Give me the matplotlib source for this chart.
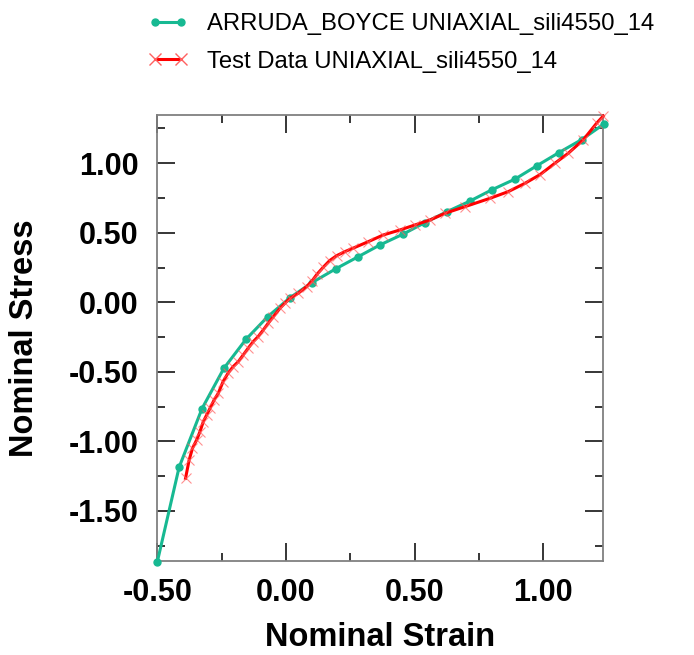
import matplotlib
matplotlib.use("Agg")
import matplotlib.pyplot as plt
from matplotlib.ticker import MultipleLocator, FormatStrFormatter
from matplotlib.lines import Line2D

# ARRUDA_BOYCE fit (model curve)
strain_ab = [-0.500, -0.415, -0.326, -0.241, -0.155, -0.071, 0.016, 0.101, 0.193, 0.281,
             0.365, 0.456, 0.540, 0.624, 0.715, 0.799, 0.890, 0.974, 1.060, 1.149, 1.236]
stress_ab = [-1.870, -1.187, -0.765, -0.475, -0.266, -0.104, 0.033, 0.141, 0.240, 0.328,
             0.412, 0.491, 0.573, 0.650, 0.728, 0.808, 0.886, 0.981, 1.076, 1.170, 1.283]

# Test data
strain_test = [-0.390, -0.376, -0.363, -0.347, -0.334, -0.321, -0.308, -0.295, -0.279, -0.263,
               -0.244, -0.225, -0.205, -0.185, -0.166, -0.147, -0.127, -0.108, -0.088, -0.069,
               -0.049, -0.023, -0.004, 0.016, 0.048, 0.080, 0.100, 0.120, 0.145, 0.170, 0.197,
               0.230, 0.262, 0.320, 0.378, 0.443, 0.501, 0.560, 0.618, 0.696, 0.793, 0.864,
               0.929, 0.987, 1.045, 1.097, 1.155, 1.208, 1.233]
stress_test = [-1.266, -1.135, -1.050, -0.991, -0.931, -0.859, -0.811, -0.763, -0.703, -0.655,
               -0.570, -0.510, -0.463, -0.427, -0.379, -0.331, -0.283, -0.247, -0.199, -0.151,
               -0.104, -0.043, -0.007, 0.029, 0.065, 0.112, 0.150, 0.200, 0.252, 0.300, 0.335,
               0.365, 0.390, 0.436, 0.484, 0.520, 0.556, 0.592, 0.640, 0.688, 0.748, 0.796,
               0.856, 0.918, 1.000, 1.072, 1.168, 1.290, 1.340]

label_ab = "ARRUDA_BOYCE UNIAXIAL_sili4550_14"
label_test = "Test Data UNIAXIAL_sili4550_14"
x_label = "Nominal Strain"
y_label = "Nominal Stress"

GREEN = "#17b992"
RED = "#ff0000"
RED_MK = "#ff6060"

plt.rcParams['font.family'] = ['Liberation Sans', 'DejaVu Sans']

fig = plt.figure(figsize=(6.94, 6.55), dpi=100)
ax = fig.add_axes([156.7 / 694, 1 - 561 / 655, (603.3 - 156.7) / 694, (561 - 115) / 655])

ax.plot(strain_ab, stress_ab, color=GREEN, lw=2.2, marker='o', ms=5,
        mfc=GREEN, mec=GREEN, clip_on=False, zorder=3)
ax.plot(strain_test, stress_test, color=RED, lw=2.2, zorder=4, clip_on=False)
ax.plot(strain_test, stress_test, ls='none', marker='x', ms=7, mew=0.8,
        color=RED_MK, alpha=0.7, zorder=5, clip_on=False)

ax.set_xlim(-0.502, 1.233)
ax.set_ylim(-1.861, 1.347)

ax.xaxis.set_major_locator(MultipleLocator(0.5))
ax.xaxis.set_minor_locator(MultipleLocator(0.25))
ax.yaxis.set_major_locator(MultipleLocator(0.5))
ax.yaxis.set_minor_locator(MultipleLocator(0.25))
ax.xaxis.set_major_formatter(FormatStrFormatter('%.2f'))
ax.yaxis.set_major_formatter(FormatStrFormatter('%.2f'))

ax.tick_params(which='both', direction='in', top=True, right=True, color='black', width=1.1)
ax.tick_params(which='major', length=13)
ax.tick_params(which='minor', length=5.8)
ax.tick_params(axis='x', which='major', pad=12)
ax.tick_params(axis='y', which='major', pad=13)
for lbl in ax.get_xticklabels() + ax.get_yticklabels():
    lbl.set_fontsize(22)
    lbl.set_fontweight('bold')

for s in ax.spines.values():
    s.set_color('#808080')
    s.set_linewidth(1.3)

ax.set_xlabel(x_label, fontsize=23.5, fontweight='bold')
ax.set_ylabel(y_label, fontsize=23.5, fontweight='bold')
ax.xaxis.set_label_coords(0.5, -0.136)
ax.yaxis.set_label_coords(-0.262, 0.5)

h1 = Line2D([], [], color=GREEN, lw=2.2, marker='o', ms=5)
h2 = Line2D([], [], color=RED, lw=2.2, marker='x', ms=8, mew=1.0, mec=RED_MK)
fig.legend([h1, h2], [label_ab, label_test], loc='upper left',
           bbox_to_anchor=(148 / 694, 1 - 13 / 655), frameon=False,
           fontsize=17.2, numpoints=2, handlelength=1.7, handletextpad=0.75,
           labelspacing=0.66, borderpad=0, borderaxespad=0)

fig.savefig("out.png", dpi=100)
